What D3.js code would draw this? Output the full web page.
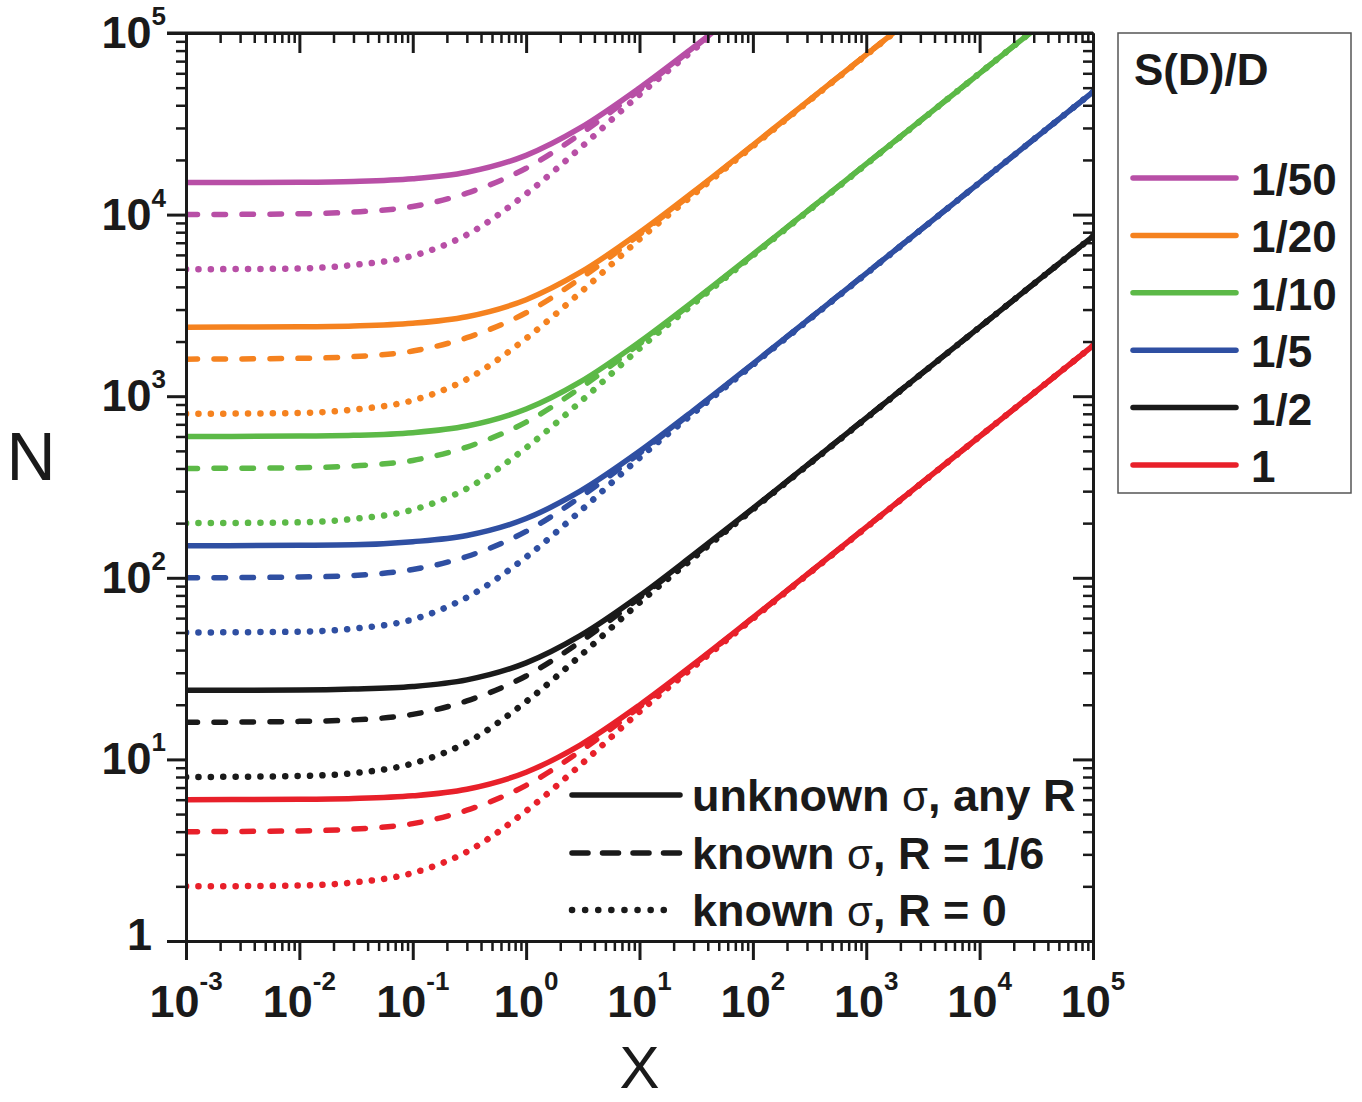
<!DOCTYPE html>
<html>
<head>
<meta charset="utf-8">
<script src="https://cdn.jsdelivr.net/npm/d3@7"></script>
<style>
  html, body { margin: 0; padding: 0; background: #fff; }
  svg { display: block; }
  text { font-family: "Liberation Sans", Arial, Helvetica, sans-serif; fill: #1a1a1a; }
</style>
</head>
<body>
<svg id="chart" width="1362" height="1102"></svg>
<script>
// ---------------- DATA ----------------
const xValues = [0.001, 0.01, 0.03, 0.1, 0.3, 1, 3, 10, 30, 100, 1000, 10000, 100000];

const categories = ["1/50", "1/20", "1/10", "1/5", "1/2", "1"];
const lineTypes = ["unknown σ, any R", "known σ, R = 1/6", "known σ, R = 0"];

// S(D)/D = 1/50
const solid_1_50  = [15000, 15080, 15230, 15750, 17100, 21200, 30000, 49800, 83500, 150800, 475000, 1500000, 4740000];
const dashed_1_50 = [10000, 10100, 10330, 11080, 13130, 18000, 27750, 48500, 82750, 150250, 474700, 1500000, 4740000];
const dotted_1_50 = [5000, 5050, 5280, 5930, 7750, 13000, 23250, 45750, 80750, 148750, 472500, 1500000, 4740000];
// S(D)/D = 1/20
const solid_1_20  = [2400, 2412, 2436, 2520, 2740, 3400, 4800, 7960, 13360, 24120, 76000, 240000, 758800];
const dashed_1_20 = [1600, 1616, 1652, 1772, 2100, 2880, 4440, 7760, 13240, 24040, 76000, 240000, 758800];
const dotted_1_20 = [800, 808, 844, 948, 1240, 2080, 3720, 7320, 12920, 23800, 75600, 240000, 758800];
// S(D)/D = 1/10
const solid_1_10  = [600, 603, 609, 630, 685, 850, 1200, 1990, 3340, 6030, 19000, 60000, 189700];
const dashed_1_10 = [400, 404, 413, 443, 525, 720, 1110, 1940, 3310, 6010, 19000, 60000, 189700];
const dotted_1_10 = [200, 202, 211, 237, 310, 520, 930, 1830, 3230, 5950, 18900, 60000, 189700];
// S(D)/D = 1/5
const solid_1_5  = [150, 151, 152, 158, 171, 212, 300, 497, 835, 1508, 4750, 15000, 47400];
const dashed_1_5 = [100, 101, 103, 111, 131, 180, 278, 485, 828, 1503, 4750, 15000, 47400];
const dotted_1_5 = [50, 50.5, 52.5, 59, 78, 130, 233, 458, 808, 1488, 4725, 15000, 47400];
// S(D)/D = 1/2
const solid_1_2  = [24, 24.1, 24.4, 25.2, 27.4, 34, 48, 79.6, 134, 241, 760, 2400, 7590];
const dashed_1_2 = [16, 16.2, 16.5, 17.7, 21, 28.8, 44.4, 77.6, 132, 240, 760, 2400, 7590];
const dotted_1_2 = [8, 8.1, 8.4, 9.5, 12.4, 20.8, 37.2, 73, 129, 238, 756, 2400, 7590];
// S(D)/D = 1
const solid_1  = [6, 6.03, 6.09, 6.3, 6.85, 8.5, 12, 19.9, 33.4, 60.3, 190, 600, 1897];
const dashed_1 = [4, 4.04, 4.13, 4.43, 5.25, 7.2, 11.1, 19.4, 33.1, 60.1, 190, 600, 1897];
const dotted_1 = [2, 2.02, 2.1, 2.37, 3.1, 5.2, 9.3, 18.3, 32.3, 59.5, 189, 600, 1897];

const xTickExponents = ["-3", "-2", "-1", "0", "1", "2", "3", "4", "5"];
const yTickExponents = ["0", "1", "2", "3", "4", "5"];

// ---------------- STYLE ----------------
const colors = ["#b84fa6", "#f5821f", "#5cb947", "#2f4fa2", "#1a1a1a", "#e8202a"];
const seriesByCategory = [
  [solid_1_50, dashed_1_50, dotted_1_50],
  [solid_1_20, dashed_1_20, dotted_1_20],
  [solid_1_10, dashed_1_10, dotted_1_10],
  [solid_1_5, dashed_1_5, dotted_1_5],
  [solid_1_2, dashed_1_2, dotted_1_2],
  [solid_1, dashed_1, dotted_1]
];
const dashStyles = [null, "11.5,16.5", "0.1,12.3"];
const widths = [5.5, 5.5, 6.5];

// ---------------- LAYOUT ----------------
const L = 186, R = 1093, T = 33, B = 941;
const svg = d3.select("#chart");
const x = d3.scaleLog().domain([1e-3, 1e5]).range([L, R]);
const y = d3.scaleLog().domain([1, 1e5]).range([B, T]);

const xMajor = xTickExponents.map(e => Math.pow(10, +e));
const yMajor = yTickExponents.map(e => Math.pow(10, +e));
const xMinor = [], yMinor = [];
for (let e = -3; e < 5; e++) for (let k = 2; k <= 9; k++) xMinor.push(k * Math.pow(10, e));
for (let e = 0; e < 5; e++) for (let k = 2; k <= 9; k++) yMinor.push(k * Math.pow(10, e));

svg.append("defs").append("clipPath").attr("id", "plotclip")
  .append("rect").attr("x", L).attr("y", T).attr("width", R - L).attr("height", B - T);

// ---------------- CURVES ----------------
const line = d3.line()
  .x(d => x(d[0]))
  .y(d => y(d[1]))
  .curve(d3.curveMonotoneX);

const curves = svg.append("g").attr("clip-path", "url(#plotclip)");
seriesByCategory.slice().reverse().forEach((group, ri) => {
  const ci = seriesByCategory.length - 1 - ri;
  group.forEach((vals, si) => {
    const pts = xValues.map((xv, i) => [xv, vals[i]]);
    const p = curves.append("path")
      .attr("d", line(pts))
      .attr("fill", "none")
      .attr("stroke", colors[ci])
      .attr("stroke-width", widths[si])
      .attr("stroke-linecap", "round")
      .attr("stroke-linejoin", "round");
    if (dashStyles[si]) p.attr("stroke-dasharray", dashStyles[si]);
  });
});

// ---------------- AXES ----------------
function styleAxis(g, w) {
  g.selectAll("path.domain").attr("stroke", "#1a1a1a").attr("stroke-width", 3);
  g.selectAll(".tick line").attr("stroke", "#1a1a1a").attr("stroke-width", w);
  g.selectAll(".tick text").remove();
}
const axes = svg.append("g");
// bottom
axes.append("g").attr("transform", `translate(0,${B})`)
  .call(d3.axisBottom(x).tickValues(xMinor).tickSize(10).tickSizeOuter(0).tickFormat(""))
  .call(g => styleAxis(g, 2.5));
axes.append("g").attr("transform", `translate(0,${B})`)
  .call(d3.axisBottom(x).tickValues(xMajor).tickSize(19).tickSizeOuter(0).tickFormat(""))
  .call(g => styleAxis(g, 3));
// top (inward)
axes.append("g").attr("transform", `translate(0,${T})`)
  .call(d3.axisTop(x).tickValues(xMinor).tickSize(-10).tickSizeOuter(0).tickFormat(""))
  .call(g => styleAxis(g, 2.5));
axes.append("g").attr("transform", `translate(0,${T})`)
  .call(d3.axisTop(x).tickValues(xMajor.slice(1, -1)).tickSize(-20).tickSizeOuter(0).tickFormat(""))
  .call(g => styleAxis(g, 3));
// left (outward)
axes.append("g").attr("transform", `translate(${L},0)`)
  .call(d3.axisLeft(y).tickValues(yMinor).tickSize(10).tickSizeOuter(0).tickFormat(""))
  .call(g => styleAxis(g, 2.5));
axes.append("g").attr("transform", `translate(${L},0)`)
  .call(d3.axisLeft(y).tickValues(yMajor).tickSize(19).tickSizeOuter(0).tickFormat(""))
  .call(g => styleAxis(g, 3));
// right (inward)
axes.append("g").attr("transform", `translate(${R},0)`)
  .call(d3.axisRight(y).tickValues(yMinor).tickSize(-10).tickSizeOuter(0).tickFormat(""))
  .call(g => styleAxis(g, 2.5));
axes.append("g").attr("transform", `translate(${R},0)`)
  .call(d3.axisRight(y).tickValues(yMajor.slice(1, -1)).tickSize(-20).tickSizeOuter(0).tickFormat(""))
  .call(g => styleAxis(g, 3));
axes.append("line").attr("x1", L - 19).attr("x2", R).attr("y1", T).attr("y2", T)
  .attr("stroke", "#1a1a1a").attr("stroke-width", 3);

// ---------------- TICK LABELS ----------------
xTickExponents.forEach((e, i) => {
  const t = svg.append("text")
    .attr("x", x(xMajor[i]))
    .attr("y", 1017)
    .attr("text-anchor", "middle")
    .attr("font-weight", "bold");
  t.append("tspan").attr("font-size", 45).text("10");
  t.append("tspan").attr("font-size", 26).attr("dy", -27).text(e);
});
yTickExponents.forEach((e, i) => {
  const yy = y(yMajor[i]);
  if (e === "0") {
    svg.append("text").attr("x", 152).attr("y", 950)
      .attr("text-anchor", "end").attr("font-weight", "bold")
      .attr("font-size", 45).text("1");
  } else {
    const t = svg.append("text").attr("x", 166).attr("y", yy + 15)
      .attr("text-anchor", "end").attr("font-weight", "bold");
    t.append("tspan").attr("font-size", 45).text("10");
    t.append("tspan").attr("font-size", 26).attr("dy", -23).text(e);
  }
});

// axis titles
svg.append("text").attr("x", 31).attr("y", 480).attr("text-anchor", "middle")
  .attr("font-size", 68).text("N");
svg.append("text").attr("x", (L + R) / 2).attr("y", 1088).attr("text-anchor", "middle")
  .attr("font-size", 60).text("X");

// ---------------- LEGEND: line styles ----------------
const lsY = [795, 853, 910];
const lsDash = [null, "16,14.5", "0.1,13"];
const lsW = [5.5, 5.5, 6.5];
lineTypes.forEach((lbl, i) => {
  const ln = svg.append("line").attr("x1", 572).attr("x2", i === 2 ? 675 : 680)
    .attr("y1", lsY[i]).attr("y2", lsY[i])
    .attr("stroke", "#1a1a1a").attr("stroke-width", lsW[i]).attr("stroke-linecap", "round");
  if (lsDash[i]) ln.attr("stroke-dasharray", lsDash[i]);
  const parts = lbl.split("σ");
  const t = svg.append("text").attr("x", 692).attr("y", lsY[i] + 16)
    .attr("font-size", 45).attr("font-weight", "bold");
  t.append("tspan").text(parts[0]);
  t.append("tspan").attr("font-weight", "normal").attr("font-size", 42).text("σ");
  t.append("tspan").text(parts[1]);
});

// ---------------- LEGEND: S(D)/D ----------------
svg.append("rect").attr("x", 1118).attr("y", 33).attr("width", 233).attr("height", 460)
  .attr("fill", "#fff").attr("stroke", "#555").attr("stroke-width", 1.5);
svg.append("text").attr("x", 1134).attr("y", 85).attr("font-size", 44)
  .attr("font-weight", "bold").text("S(D)/D");
categories.forEach((c, i) => {
  const ly = 178 + i * 57.4;
  svg.append("line").attr("x1", 1133).attr("x2", 1236).attr("y1", ly).attr("y2", ly)
    .attr("stroke", colors[i]).attr("stroke-width", 5.5).attr("stroke-linecap", "round");
  svg.append("text").attr("x", 1251).attr("y", ly + 17).attr("font-size", 44)
    .attr("font-weight", "bold").text(c);
});
</script>
</body>
</html>
